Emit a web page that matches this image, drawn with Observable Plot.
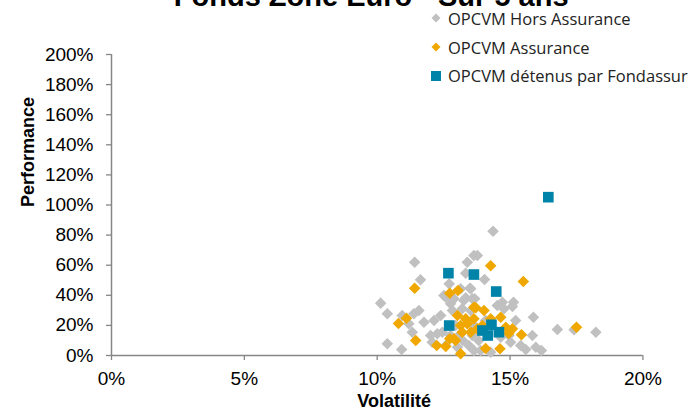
<!DOCTYPE html>
<html>
<head>
<meta charset="utf-8">
<script src="https://cdn.jsdelivr.net/npm/d3@7"></script>
<script src="https://cdn.jsdelivr.net/npm/@observablehq/plot@0.6"></script>
<style>
  html, body { margin: 0; padding: 0; background: #fff; }
  #wrap { position: relative; width: 695px; height: 409px; overflow: hidden; }
  #legend { position: absolute; left: 430px; top: 4px; font-family: "Open Sans", sans-serif; font-size: 16.5px; color: #222; white-space: nowrap; }
  #legend .row { height: 28.8px; display: flex; align-items: center; }
  #legend svg { margin-right: 6px; }
</style>
</head>
<body>
<div id="wrap"><div id="legend"></div></div>
<script>
const title = "Fonds Zone Euro - Sur 5 ans";
const xLabel = "Volatilité";
const yLabel = "Performance";
const seriesNames = ["OPCVM Hors Assurance", "OPCVM Assurance", "OPCVM détenus par Fondassur"];
const seriesColors = ["#C0C0C0", "#F0A800", "#0083A8"];
const xTicks = [0, 5, 10, 15, 20];
const yTicks = [0, 20, 40, 60, 80, 100, 120, 140, 160, 180, 200];

// OPCVM Hors Assurance (volatility %, performance %)
const horsVol = [14.36, 11.41, 13.77, 13.64, 13.39, 11.63, 13.33, 14.04, 12.71, 13.52, 12.51, 13.33, 13.67, 12.76, 10.13, 10.38, 11.57, 11.38, 14.52, 14.71, 15.13, 15.09, 12.14, 11.76, 11.19, 15.88, 12.83, 13.20, 13.52, 10.38, 10.92, 11.32, 12.01, 12.26, 12.45, 15.84, 15.02, 15.59, 16.18, 15.97, 16.78, 18.23, 17.41, 10.94, 12.07, 13.14, 13.49, 12.58, 12.89, 13.26, 13.58, 14.77, 13.45, 13.64, 12.76, 13.14, 13.58, 14.65, 14.96, 13.02, 13.45, 13.64, 13.89, 14.27, 15.40, 12.95, 13.22, 13.82, 12.39, 12.58, 15.21, 14.08];
const horsPerf = [82.6, 62.0, 66.4, 66.4, 62.0, 50.3, 54.7, 50.5, 47.6, 44.3, 39.9, 38.3, 37.7, 34.4, 34.8, 27.7, 29.9, 27.7, 33.2, 35.4, 35.4, 32.6, 23.3, 22.1, 21.1, 25.4, 29.9, 31.0, 29.9, 7.8, 4.0, 15.5, 13.3, 14.4, 15.5, 13.3, 8.8, 4.0, 3.3, 5.5, 17.3, 15.5, 17.1, 26.6, 8.8, 44.3, 44.7, 38.7, 37.7, 36.5, 37.7, 31.0, 22.1, 19.9, 13.3, 14.4, 13.3, 12.2, 13.3, 5.5, 6.6, 3.3, 3.3, 2.2, 6.6, 19.9, 10.0, 10.0, 26.6, 6.6, 23.3, 23.3];

// OPCVM Assurance
const assVol = [14.27, 15.50, 11.41, 12.73, 13.04, 11.10, 10.80, 11.45, 12.24, 12.73, 12.95, 13.14, 14.08, 14.62, 15.43, 15.09, 14.84, 14.65, 13.71, 14.02, 13.02, 13.33, 13.14, 13.39, 13.64, 13.20, 13.77, 13.96, 17.50, 13.64, 14.27, 13.52, 12.89, 14.95, 12.58];
const assPerf = [59.6, 49.2, 44.7, 41.4, 43.2, 24.8, 21.3, 10.0, 6.6, 11.1, 10.0, 1.1, 4.7, 4.5, 13.8, 17.7, 18.8, 25.4, 31.7, 29.9, 26.6, 24.4, 19.9, 21.1, 24.4, 15.5, 17.7, 19.9, 18.8, 32.1, 24.4, 15.5, 11.1, 14.6, 6.0];

// OPCVM détenus par Fondassur
const fondVol = [16.44, 12.68, 13.64, 14.48, 12.71, 13.96, 14.30, 14.58, 14.16];
const fondPerf = [105.2, 54.7, 53.8, 42.5, 19.9, 16.6, 20.4, 15.5, 13.3];

const toRows = (xs, ys) => xs.map((v, i) => ({v, p: ys[i]}));
const hors = toRows(horsVol, horsPerf);
const ass = toRows(assVol, assPerf);
const fond = toRows(fondVol, fondPerf);

const pct = d => d + "%";
const axisColor = "#868686";
const font = "'Liberation Sans', Arial, sans-serif";

const chart = Plot.plot({
  width: 695,
  height: 409,
  marginLeft: 111,
  marginRight: 52.6,
  marginTop: 54,
  marginBottom: 54,
  style: {fontFamily: font, fontSize: "19px", color: "#000", background: "#fff", overflow: "hidden"},
  x: {domain: [0, 20]},
  y: {domain: [0, 200]},
  marks: [
    Plot.axisX({ticks: xTicks, tickFormat: pct, tickSize: 5, tickPadding: 11, stroke: axisColor, strokeWidth: 1.3, fill: "#000", label: null}),
    Plot.axisY({ticks: yTicks, tickFormat: pct, tickSize: 5, tickPadding: 13, stroke: axisColor, strokeWidth: 1.3, fill: "#000", label: null}),
    Plot.ruleY([0], {stroke: axisColor, strokeWidth: 1.5}),
    Plot.ruleX([0], {stroke: axisColor, strokeWidth: 1.5}),
    Plot.dot(hors, {x: "v", y: "p", symbol: "diamond2", r: 5.2, fill: seriesColors[0], stroke: "none"}),
    Plot.dot(ass, {x: "v", y: "p", symbol: "diamond2", r: 5.2, fill: seriesColors[1], stroke: "none"}),
    Plot.dot(fond, {x: "v", y: "p", symbol: "square", r: 6, fill: seriesColors[2], stroke: "none"}),
    Plot.text([title], {frameAnchor: "top", dx: -6, dy: -49, lineAnchor: "bottom", fontSize: 29, fontWeight: "bold", fill: "#000"}),
    Plot.text([xLabel], {frameAnchor: "bottom", dx: 17, dy: 51, lineAnchor: "bottom", fontSize: 18, fontWeight: "bold", fill: "#000"}),
    Plot.text([yLabel], {frameAnchor: "left", dx: -78, dy: 2, rotate: -90, lineAnchor: "bottom", fontSize: 18, fontWeight: "bold", fill: "#000"})
  ]
});
const wrap = document.getElementById("wrap");
wrap.insertBefore(chart, wrap.firstChild);

const legend = document.getElementById("legend");
const shapes = [
  '<polygon points="6,1.5 10.5,6 6,10.5 1.5,6" fill="' + seriesColors[0] + '"/>',
  '<polygon points="6,1.5 10.5,6 6,10.5 1.5,6" fill="' + seriesColors[1] + '"/>',
  '<rect x="1" y="1" width="10" height="10" fill="' + seriesColors[2] + '"/>'
];
seriesNames.forEach((name, i) => {
  const row = document.createElement("div");
  row.className = "row";
  row.innerHTML = '<svg width="12" height="12">' + shapes[i] + '</svg><span>' + name + '</span>';
  legend.appendChild(row);
});
</script>
</body>
</html>
